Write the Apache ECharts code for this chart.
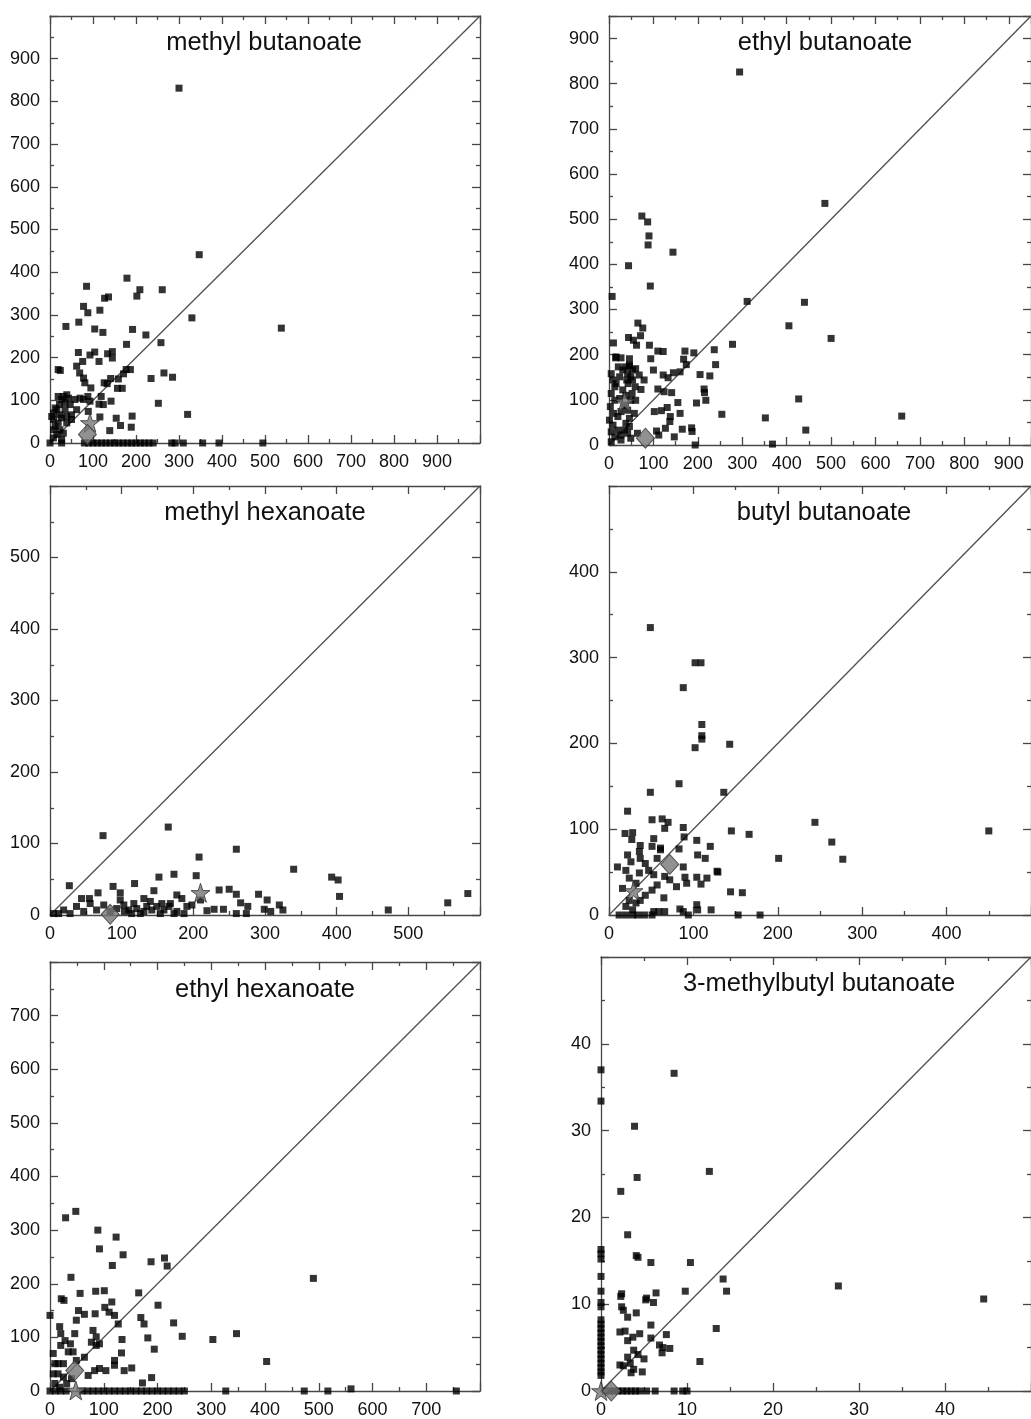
<!DOCTYPE html>
<html><head><meta charset="utf-8">
<script src="https://cdn.jsdelivr.net/npm/echarts@6/dist/echarts.min.js"></script>
<style>html,body{margin:0;padding:0;background:#fff}#c{width:1031px;height:1419px}</style>
</head><body><div id="c"></div>
<script>
// ---------- DATA ----------
const titles = ["methyl butanoate","ethyl butanoate","methyl hexanoate","butyl butanoate","ethyl hexanoate","3-methylbutyl butanoate"];
const axisMax = [1000, 950, 600, 500, 800, 50];
const axisStep = [100, 100, 100, 100, 100, 10];

const methylButanoate = [[300,831],[347,441],[538,269],[330,293],[179,386],[85,367],[261,359],[209,359],[202,344],[136,342],[127,339],[78,320],[88,305],[116,311],[67,283],[37,273],[104,267],[123,259],[192,266],[223,253],[258,235],[178,231],[66,212],[104,213],[93,206],[134,209],[145,214],[145,199],[76,191],[114,191],[62,180],[69,164],[78,152],[81,141],[19,172],[24,170],[171,162],[177,172],[187,172],[235,151],[265,164],[285,154],[141,151],[126,141],[133,139],[95,129],[159,150],[157,128],[168,128],[88,109],[93,98],[119,109],[114,91],[124,90],[142,98],[252,93],[89,74],[116,61],[154,58],[164,41],[139,29],[191,63],[189,37],[320,67],
[8,70],[16,78],[22,90],[27,102],[31,109],[39,113],[43,105],[35,94],[47,90],[58,102],[8,55],[19,47],[27,59],[39,62],[50,66],[12,39],[23,31],[16,20],[31,23],[8,12],[39,47],[62,78],[50,55],[35,78],[23,66],[12,82],[78,102],[70,105],[19,109],[4,62],[8,31],[27,8],[0,0],
[27,0],[80,0],[90,0],[100,0],[110,0],[120,0],[130,0],[140,0],[150,0],[160,0],[170,0],[180,0],[190,0],[200,0],[210,0],[220,0],[230,0],[240,0],[283,0],[291,0],[310,0],[355,0],[393,0],[495,0]];
const methylButanoateStar = [93,47];
const methylButanoateDiamond = [87,20];

const ethylButanoate = [[294,826],[486,535],[74,507],[87,494],[90,463],[88,443],[144,427],[44,397],[93,352],[7,329],[311,318],[440,316],[65,270],[76,259],[405,264],[500,236],[278,223],[10,226],[44,238],[55,232],[71,242],[62,221],[91,221],[110,208],[122,207],[171,208],[191,204],[237,211],[15,193],[27,193],[21,173],[94,191],[168,190],[174,178],[240,178],[100,166],[122,155],[133,149],[145,160],[160,162],[205,156],[227,153],[46,175],[60,169],[49,151],[43,136],[59,129],[79,144],[72,123],[110,124],[124,118],[141,116],[214,124],[215,116],[155,94],[197,93],[218,99],[102,74],[118,76],[131,83],[138,63],[137,52],[127,37],[160,70],[165,35],[186,38],[187,30],[147,18],[107,31],[112,22],[254,68],[352,60],[427,102],[443,33],[659,64],[194,0],[368,2],[64,26],
[5,158],[9,144],[13,129],[16,136],[5,114],[13,99],[24,103],[3,85],[10,70],[20,63],[27,74],[1,55],[9,44],[20,33],[5,29],[13,18],[27,22],[35,33],[42,26],[49,15],[27,11],[5,7],[38,48],[46,59],[42,77],[35,88],[38,110],[31,122],[42,158],[46,177],[53,166],[37,173],[40,144],[52,114],[60,99],[49,99],[57,70],[46,41],[16,195],[31,166],[24,151],[46,191],[53,144],[68,155]];
const ethylButanoateStar = [35,96];
const ethylButanoateDiamond = [82,15];

const methylHexanoate = [[74,111],[165,123],[260,92],[208,81],[340,64],[393,53],[402,49],[404,26],[472,7],[555,17],[583,30],[27,41],[88,40],[118,44],[152,53],[173,57],[204,55],[98,31],[145,34],[131,23],[67,31],[55,23],[44,23],[236,35],[250,36],[260,29],[291,29],[303,21],[320,14],[325,7],[308,5],[299,8],[266,17],[276,12],[274,2],[260,2],[242,8],[229,8],[219,6],[210,21],[198,14],[184,23],[177,28],[168,16],[156,16],[149,12],
[103,14],[110,7],[117,16],[121,9],[126,2],[135,12],[142,7],[105,5],[114,2],[131,5],[140,19],[93,9],[84,5],[75,14],[65,7],[56,16],[47,5],[37,12],[28,2],[19,7],[12,2],[5,2],[177,5],[187,2],[191,12],[173,2],[159,7],[166,12],[98,21],[154,2]];
const methylHexanoateStar = [210,31];
const methylHexanoateDiamond = [84,1];

const butylButanoate = [[49,335],[102,294],[109,294],[88,265],[110,222],[110,209],[110,205],[102,195],[143,199],[83,153],[49,143],[136,143],[22,121],[244,108],[450,98],[264,85],[277,65],[201,66],[145,98],[166,94],[51,111],[63,112],[70,108],[66,101],[88,102],[89,91],[19,95],[28,96],[27,88],[53,89],[37,81],[120,80],[104,87],[83,77],[51,80],[61,78],[105,70],[114,66],[88,56],[90,44],[92,37],[104,44],[109,36],[116,43],[128,51],[129,50],[80,33],[144,27],[158,26],[121,6],[153,0],[179,0],[104,12],[105,6],[84,7],[88,4],[94,0],[66,4],[59,4],[53,4],[42,0],[65,20],[66,45],[72,41],[10,56],[22,70],[26,62],[20,52],[24,43],[16,31],[32,37],[36,49],[43,60],[37,66],[47,52],[53,47],[57,35],[51,29],[43,23],[37,17],[32,14],[24,17],[20,10],[28,6],[12,0],[20,0],[28,0],[34,0],[51,0],[61,76],[57,66],[36,74]];
const butylButanoateStar = [29,28];
const butylButanoateDiamond = [72,59];

const ethylHexanoate = [[490,210],[48,335],[29,323],[89,300],[123,287],[92,265],[136,254],[213,248],[218,233],[188,241],[116,234],[39,212],[56,182],[85,186],[101,187],[165,183],[21,172],[26,169],[115,166],[201,160],[0,141],[64,143],[84,144],[102,156],[110,147],[120,141],[127,125],[169,137],[175,125],[230,127],[246,102],[303,96],[347,107],[403,55],[182,99],[194,78],[134,96],[133,71],[53,150],[49,132],[46,107],[38,88],[18,120],[20,107],[28,94],[20,85],[34,73],[43,73],[49,57],[64,63],[80,113],[86,101],[77,91],[86,85],[92,88],[83,38],[71,29],[92,42],[104,38],[120,57],[120,48],[138,38],[152,43],[172,15],[189,25],[6,70],[9,51],[15,51],[25,51],[6,32],[15,32],[25,26],[9,14],[18,7],[31,14],[40,23],
[0,0],[10,0],[20,0],[30,0],[60,0],[70,0],[80,0],[90,0],[100,0],[110,0],[120,0],[130,0],[140,0],[150,0],[160,0],[170,0],[180,0],[190,0],[200,0],[210,0],[220,0],[230,0],[240,0],[250,0],[327,0],[473,0],[517,0],[560,4],[756,0]];
const ethylHexanoateStar = [48,1];
const ethylHexanoateDiamond = [46,38];

const methylbutylButanoate = [[0,37.0],[0,33.4],[8.5,36.6],[3.9,30.5],[12.6,25.3],[4.2,24.6],[2.3,23.0],[3.1,18.0],[4.1,15.6],[4.3,15.4],[5.8,14.8],[10.4,14.8],[14.2,12.9],[14.6,11.5],[9.8,11.5],[27.6,12.1],[44.5,10.6],[2.4,11.2],[2.3,10.9],[6.4,11.3],[5.3,10.7],[5.2,10.5],[6.1,10.2],[2.4,9.7],[2.6,9.3],[3.1,8.5],[4.1,9.0],[2.2,6.8],[2.8,6.9],[3.7,6.2],[3.1,5.8],[4.5,6.6],[5.8,7.6],[5.8,6.1],[7.6,6.5],[6.8,5.3],[7.2,5.0],[7.1,4.4],[8.0,4.9],[13.4,7.2],[11.5,3.4],[3.8,4.7],[4.3,4.2],[3.1,3.9],[5.0,3.7],[2.2,3.0],[2.6,2.9],[3.4,3.2],[3.8,2.5],[3.5,2.1],[4.8,2.2],
[0,16.3],[0,15.8],[0,15.2],[0,13.2],[0,11.5],[0,10.2],[0,9.7],[0,8.2],[0,7.7],[0,7.2],[0,6.7],[0,6.2],[0,5.7],[0,5.2],[0,4.7],[0,4.2],[0,3.7],[0,3.2],[0,2.7],[0,2.2],[0,1.8],
[0.5,0],[1,0],[1.5,0],[2,0],[2.5,0],[3,0],[3.5,0],[4,0],[4.5,0],[5.3,0],[6.3,0],[8.5,0],[9.5,0],[10,0]];
const methylbutylButanoateStar = [0,0];
const methylbutylButanoateDiamond = [1.2,0];

const panelPoints = [methylButanoate, ethylButanoate, methylHexanoate, butylButanoate, ethylHexanoate, methylbutylButanoate];
const panelStars = [methylButanoateStar, ethylButanoateStar, methylHexanoateStar, butylButanoateStar, ethylHexanoateStar, methylbutylButanoateStar];
const panelDiamonds = [methylButanoateDiamond, ethylButanoateDiamond, methylHexanoateDiamond, butylButanoateDiamond, ethylHexanoateDiamond, methylbutylButanoateDiamond];

// ---------- LAYOUT ----------
const grids = [
  {left:50, top:16, width:430, height:427},
  {left:609, top:16, width:430, height:429},
  {left:50, top:486, width:430, height:429},
  {left:609, top:486, width:431, height:429},
  {left:50, top:962, width:430, height:429},
  {left:601, top:957, width:440, height:438}
];
const titlePos = [[264,43],[825,43],[265,513],[824,513],[265,990],[819,984]];

const FONT = 'Liberation Sans, Arial, sans-serif';
const AXC = '#474747';
const STAR = 'path://M50,2 L61.8,36.2 L97.6,36.2 L68.6,57.4 L79.6,91.6 L50,70.4 L20.4,91.6 L31.4,57.4 L2.4,36.2 L38.2,36.2 Z';

const xAxes = [], yAxes = [], series = [], graphics = [];
grids.forEach((g, i) => {
  const max = axisMax[i], step = axisStep[i];
  const base = (pos, showLabel) => ({
    gridIndex: i, type: 'value', min: 0, max: max, interval: step, position: pos,
    axisLine: {show: true, onZero: false, lineStyle: {color: AXC, width: 1.3}},
    axisTick: {show: true, inside: true, length: 8, lineStyle: {color: AXC, width: 1.3}},
    minorTick: {show: true, splitNumber: 2, length: 4, lineStyle: {color: AXC, width: 1.3}},
    splitLine: {show: false}, minorSplitLine: {show: false},
    axisLabel: {show: showLabel, fontFamily: FONT, fontSize: 18, color: '#111', margin: 10,
      showMaxLabel: false,
      formatter: v => (v >= max - 1e-9 || (v % step) !== 0) ? '' : String(v)}
  });
  xAxes.push(base('bottom', true));
  xAxes.push(base('top', false));
  yAxes.push(base('left', true));
  yAxes.push(base('right', false));
  const xi = i * 2, yi = i * 2;
  series.push({type: 'line', xAxisIndex: xi, yAxisIndex: yi, data: [[0, 0], [max, max]],
    symbol: 'none', silent: true, z: 1, lineStyle: {color: '#505050', width: 1.3}});
  series.push({type: 'scatter', xAxisIndex: xi, yAxisIndex: yi, data: panelPoints[i],
    symbol: 'rect', symbolSize: 7, itemStyle: {color: '#000'}, z: 3, clip: false, silent: true});
  series.push({type: 'scatter', xAxisIndex: xi, yAxisIndex: yi, data: [panelStars[i]],
    symbol: STAR, symbolSize: 19, itemStyle: {color: '#767676', borderColor: '#333', borderWidth: 1}, z: 4, clip: false, silent: true});
  series.push({type: 'scatter', xAxisIndex: xi, yAxisIndex: yi, data: [panelDiamonds[i]],
    symbol: 'diamond', symbolSize: [18, 20], itemStyle: {color: '#767676', borderColor: '#333', borderWidth: 1}, z: 5, clip: false, silent: true});
  graphics.push({type: 'text', x: titlePos[i][0], y: titlePos[i][1], z: 10,
    style: {text: titles[i], font: '25.5px ' + FONT, fill: '#111', textAlign: 'center', textVerticalAlign: 'middle'}});
});
const chart = echarts.init(document.getElementById('c'), null, {renderer: 'canvas'});
chart.setOption({
  animation: false,
  backgroundColor: '#fff',
  grid: grids.map(g => Object.assign({containLabel: false}, g)),
  xAxis: xAxes,
  yAxis: yAxes,
  series: series,
  graphic: graphics
});
</script>
</body></html>
